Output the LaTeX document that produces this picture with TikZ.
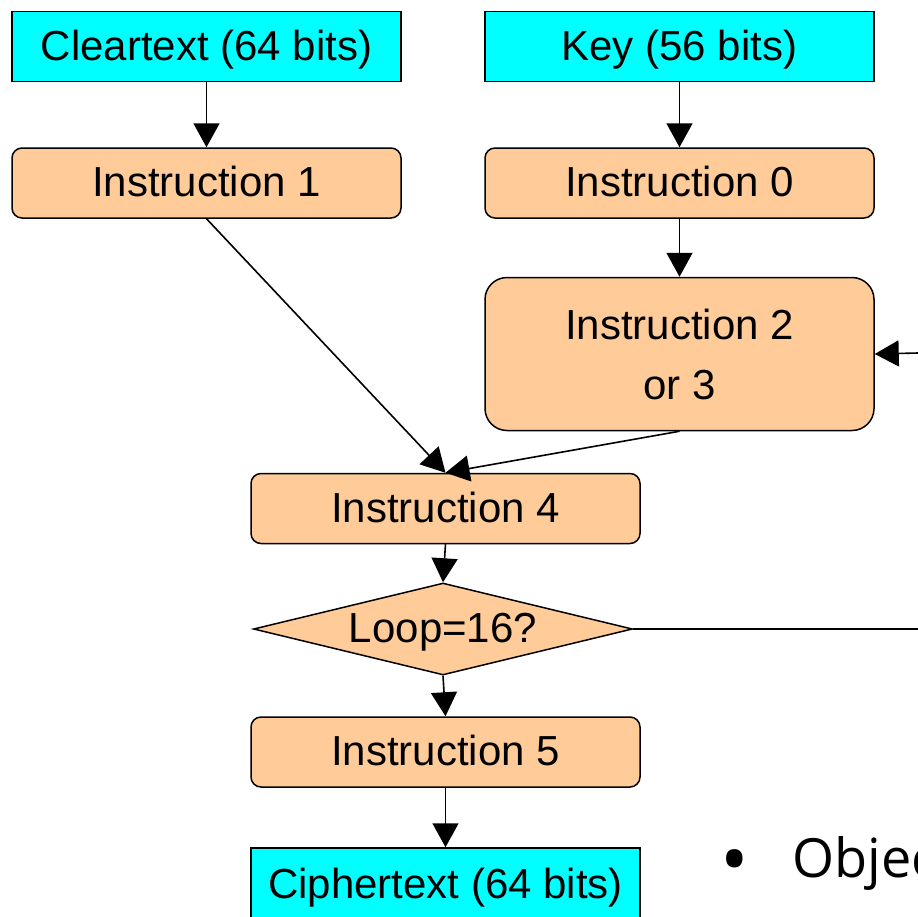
\documentclass[tikz,border=0pt]{standalone}
\usepackage{fontspec}
\setmainfont{Liberation Sans}
\newfontfamily\slidefont{Open Sans}
\usetikzlibrary{shapes.geometric,arrows.meta}
\definecolor{peach}{RGB}{255,204,153}
\definecolor{aqua}{RGB}{0,255,255}
\begin{document}
\begin{tikzpicture}[x=1pt,y=-1pt,
  every node/.style={font=\fontsize{42}{60}\selectfont, inner sep=0pt},
  oneline/.style={text height=30pt, text depth=3pt},
  databox/.style={draw, line width=1.5pt, fill=aqua, minimum width=389pt, minimum height=70pt, oneline},
  stepbox/.style={draw, line width=1.5pt, fill=peach, rounded corners=10pt, minimum width=389pt, minimum height=70pt, oneline},
  decision/.style={diamond, draw, line width=1.5pt, fill=peach, aspect=4.12, minimum width=379pt, minimum height=92pt, oneline},
  flow/.style={line width=1.6pt, -{Triangle[length=24pt,width=26pt]}},
  plain/.style={line width=1.6pt}]
\useasboundingbox (0,0) rectangle (918,916);
\clip (0,0) rectangle (918,916);

% inputs
\node[databox] (clear) at (206.5,46.5) {Cleartext (64 bits)};
\node[databox] (key) at (679.5,46.5) {Key (56 bits)};

% processing steps
\node[stepbox] (i1) at (206.5,183) {Instruction 1};
\node[stepbox] (i0) at (679.5,183) {Instruction 0};
\node[stepbox, rounded corners=22pt, minimum height=153pt, align=center,
      text height=, text depth=] (i23) at (679.5,354) {Instruction 2\\or 3};
\node[stepbox] (i4) at (445.5,508.5) {Instruction 4};
\node[decision] (loop) at (443,629) {Loop=16?};
\node[stepbox] (i5) at (445.5,752) {Instruction 5};

% output
\node[databox, minimum height=74pt] (cipher) at (445.5,885) {Ciphertext (64 bits)};

% loop-back ends at the right edge
\coordinate (backin) at (918,353);
\coordinate (backout) at (918,629);

% connectors
\draw[flow] (clear.south) -- (i1.north);
\draw[flow] (key.south) -- (i0.north);
\draw[flow] (i0.south) -- (i23.north);
\draw[flow] (i1.south) -- (i4.north);
\draw[flow] (i23.south) -- (i4.north);
\draw[flow] (i4.south) -- (loop.north);
\draw[flow] (loop.south) -- (i5.north);
\draw[flow] (i5.south) -- (cipher.north);
\draw[plain] (loop.east) -- (backout);
\draw[flow] (backin) -- (i23.east);

% slide text beside the chart
\node[anchor=center, font=\slidefont\fontsize{76}{76}\selectfont] (bul) at (735,868) {•};
\node[anchor=base west, font=\slidefont\fontsize{54}{60}\selectfont] (obj) at (792,877) {Objec};
\end{tikzpicture}
\end{document}
